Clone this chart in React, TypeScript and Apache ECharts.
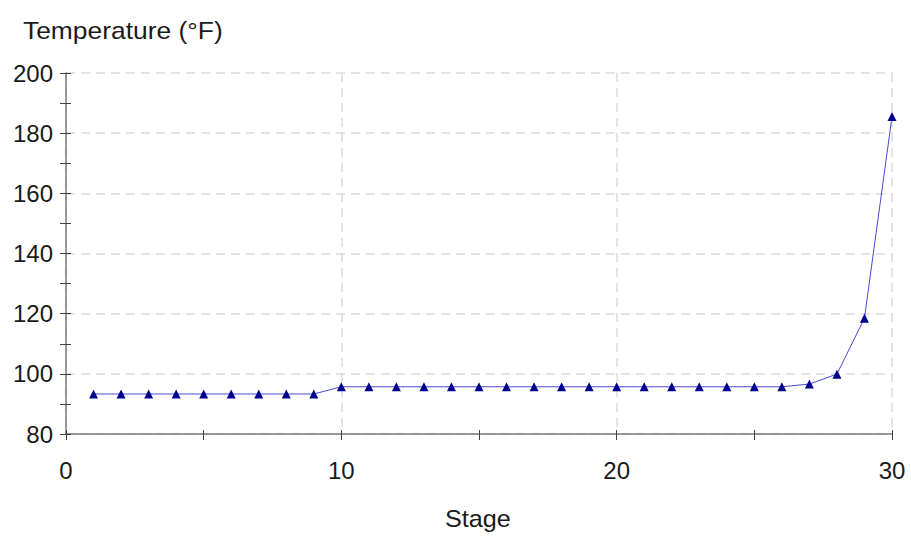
import React, { useEffect, useRef } from "react";
import * as echarts from "echarts";

const stages = [1, 2, 3, 4, 5, 6, 7, 8, 9, 10, 11, 12, 13, 14, 15, 16, 17, 18, 19, 20, 21, 22, 23, 24, 25, 26, 27, 28, 29, 30];
const temperatures = [
  93.3, 93.3, 93.3, 93.3, 93.3, 93.3, 93.3, 93.3, 93.3,
  95.7, 95.7, 95.7, 95.7, 95.7, 95.7, 95.7, 95.7, 95.7, 95.7, 95.7, 95.7, 95.7, 95.7, 95.7, 95.7, 95.7,
  96.6, 99.9, 118.5, 185.5,
];
const yAxisTitle = "Temperature (°F)";
const xAxisTitle = "Stage";

const FONT = "'Liberation Sans', Arial, sans-serif";

export default function App() {
  const ref = useRef<HTMLDivElement>(null);
  useEffect(() => {
    if (!ref.current) return;
    const chart = echarts.init(ref.current, undefined, { renderer: "svg" });
    const axisColor = "#7a7a7a";
    const tickColor = "#404040";
    chart.setOption({
      animation: false,
      backgroundColor: "#ffffff",
      grid: { left: 66, right: 19, top: 73, bottom: 102, containLabel: false },
      graphic: [
        {
          type: "text",
          x: 23,
          y: 18,
          scaleX: 1.1,
          style: { text: yAxisTitle, font: `24px ${FONT}`, fill: "#1a1a1a", textVerticalAlign: "top" },
        },
        {
          type: "text",
          x: 445,
          y: 507,
          scaleX: 1.05,
          style: { text: xAxisTitle, font: `24px ${FONT}`, fill: "#1a1a1a", textVerticalAlign: "top" },
        },
      ],
      xAxis: [
        {
          type: "value",
          min: 0,
          max: 30,
          interval: 10,
          axisLine: { show: true, onZero: false, lineStyle: { color: axisColor, width: 1.5 } },
          axisTick: { show: true, length: 6, lineStyle: { color: tickColor, width: 1 } },
          minorTick: { show: true, splitNumber: 2, length: 6, lineStyle: { color: tickColor, width: 1 } },
          axisLabel: { margin: 24, fontSize: 24, color: "#1a1a1a", fontFamily: FONT },
          splitLine: { show: true, lineStyle: { color: "#dcdcdc", type: [9, 6], width: 1.5 } },
        },
        {
          type: "value",
          position: "bottom",
          min: 0,
          max: 30,
          interval: 10,
          axisLine: { show: false, onZero: false },
          axisTick: { show: true, inside: true, length: 4, lineStyle: { color: tickColor, width: 1 } },
          minorTick: { show: true, splitNumber: 2, length: 4, lineStyle: { color: tickColor, width: 1 } },
          axisLabel: { show: false },
          splitLine: { show: false },
        },
      ],
      yAxis: [
        {
          type: "value",
          min: 80,
          max: 200,
          interval: 20,
          axisLine: { show: true, onZero: false, lineStyle: { color: axisColor, width: 1.5 } },
          axisTick: { show: true, length: 6, lineStyle: { color: tickColor, width: 1 } },
          minorTick: { show: true, splitNumber: 2, length: 6, lineStyle: { color: tickColor, width: 1 } },
          axisLabel: { margin: 13, fontSize: 24, color: "#1a1a1a", fontFamily: FONT },
          splitLine: { show: true, lineStyle: { color: "#dcdcdc", type: [9, 6], width: 1.5 } },
        },
        {
          type: "value",
          position: "left",
          min: 80,
          max: 200,
          interval: 20,
          axisLine: { show: false, onZero: false },
          axisTick: { show: true, inside: true, length: 5, lineStyle: { color: tickColor, width: 1 } },
          minorTick: { show: true, splitNumber: 2, length: 5, lineStyle: { color: tickColor, width: 1 } },
          axisLabel: { show: false },
          splitLine: { show: false },
        },
      ],
      series: [
        {
          type: "line",
          xAxisIndex: 0,
          yAxisIndex: 0,
          data: stages.map((s, i) => [s, temperatures[i]]),
          symbol: "triangle",
          symbolSize: 9,
          lineStyle: { color: "#4a4ad2", width: 1 },
          itemStyle: { color: "#00008f" },
        },
      ],
    });
    return () => chart.dispose();
  }, []);
  return <div ref={ref} style={{ width: 911, height: 536, position: "absolute", left: 0, top: 0 }} />;
}
